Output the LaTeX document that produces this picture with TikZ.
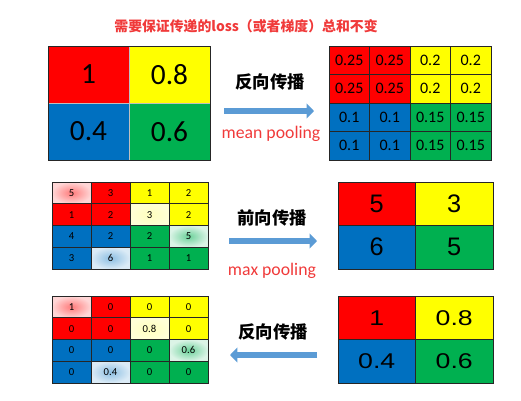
\documentclass[tikz,border=0pt]{standalone}
\usepackage{fontspec}
\setmainfont{Carlito}
\newfontfamily\cjk{Noto Sans CJK SC}
\newfontfamily\arialf{Liberation Sans}
\usetikzlibrary{arrows.meta}
\definecolor{cR}{HTML}{FF0000}
\definecolor{cY}{HTML}{FFFF00}
\definecolor{cB}{HTML}{0070C0}
\definecolor{cG}{HTML}{00B050}
\definecolor{arr}{HTML}{5B9BD5}
\definecolor{lab}{HTML}{F03A3A}
\begin{document}
\begin{tikzpicture}[x=0.75pt,y=-0.75pt,
  cell/.style={draw=black!85, line width=0.6pt, inner sep=0pt, outer sep=0pt, anchor=north west, text=black},
  bigcell/.style={cell, minimum width=81*0.75pt, minimum height=57*0.75pt, draw=black!25, font=\fontsize{22}{24}\selectfont},
  midcell/.style={cell, minimum width=40.5*0.75pt, minimum height=28.5*0.75pt, font=\fontsize{12}{14}\selectfont},
  smallcell/.style={cell, minimum width=39*0.75pt, minimum height=21.75*0.75pt, font=\fontsize{8}{9}\selectfont},
  poolcell/.style={cell, minimum width=77.5*0.75pt, minimum height=43.5*0.75pt},
  cjklab/.style={font=\cjk\bfseries\fontsize{13}{15}\selectfont},
  enlab/.style={font=\fontsize{13.3}{15}\selectfont, text=lab},
  fatarrow/.style={draw=arr, line width=5.2pt, -{Triangle[length=5.5pt,width=11pt]}}
]
\useasboundingbox (0,0) rectangle (521,400);

% title
\node[font=\cjk\bfseries\fontsize{10.4}{12}\selectfont, text=lab] (title) at (246,26) {需要保证传递的loss（或者梯度）总和不变};

% top-left 2x2
\foreach \i/\j/\c/\t in {0/0/cR/1, 1/0/cY/0.8, 0/1/cB/0.4, 1/1/cG/0.6}
  \node[bigcell, fill=\c] (tl-\i-\j) at ({48+81*\i},{46+57*\j}) {\t};
\draw[black!85, line width=0.6pt] (tl-0-0.north west) rectangle (tl-1-1.south east);

% top-right 4x4 (mean pooling back-prop)
\foreach \j/\ca/\cb/\ta/\tb in {0/cR/cY/0.25/0.2, 1/cR/cY/0.25/0.2, 2/cB/cG/0.1/0.15, 3/cB/cG/0.1/0.15}{
  \foreach \i/\c/\t in {0/\ca/\ta, 1/\ca/\ta, 2/\cb/\tb, 3/\cb/\tb}
    \node[midcell, fill=\c] (tr-\i-\j) at ({329+40.5*\i},{46+28.5*\j}) {\t};
}

% labels and arrow, row 1
\node[cjklab] (bp1) at (270,82) {反向传播};
\node[enlab] (mean) at (271,134) {mean pooling};
\coordinate (a1s) at (224,111);
\coordinate (a1e) at (314,111);
\draw[fatarrow] (a1s) -- (a1e);

% middle-left 4x4 (max pooling input)
\foreach \i/\j/\ic/\oc/\t in {
  0/0/cR!52/cR!16/5, 1/0/cR/cR/3, 2/0/cY/cY/1, 3/0/cY/cY/2,
  0/1/cR/cR/1, 1/1/cR/cR/2, 2/1/cY!26/cY!16/3, 3/1/cY/cY/2,
  0/2/cB/cB/4, 1/2/cB/cB/2, 2/2/cG/cG/2, 3/2/cG!58/cG!14/5,
  0/3/cB/cB/3, 1/3/cB!45/cB!14/6, 2/3/cG/cG/1, 3/3/cG/cG/1}
  \node[smallcell, inner color=\ic, outer color=\oc] (ml-\i-\j) at ({52+39*\i},{182+21.75*\j}) {\t};

% middle-right 2x2 (max pooling output)
\foreach \i/\j/\c/\t in {0/0/cR/5, 1/0/cY/3, 0/1/cB/6, 1/1/cG/5}
  \node[poolcell, fill=\c, font=\arialf\fontsize{19}{21}\selectfont] (mr-\i-\j) at ({338+77.5*\i},{182+43.5*\j}) {\t};

\node[cjklab] (fp) at (272,218) {前向传播};
\node[enlab] (maxp) at (272,271) {max pooling};
\coordinate (a2s) at (229,241);
\coordinate (a2e) at (317,241);
\draw[fatarrow] (a2s) -- (a2e);

% bottom-left 4x4 (max pooling back-prop)
\foreach \i/\j/\ic/\oc/\t in {
  0/0/cR!52/cR!16/1, 1/0/cR/cR/0, 2/0/cY/cY/0, 3/0/cY/cY/0,
  0/1/cR/cR/0, 1/1/cR/cR/0, 2/1/cY!26/cY!16/0.8, 3/1/cY/cY/0,
  0/2/cB/cB/0, 1/2/cB/cB/0, 2/2/cG/cG/0, 3/2/cG!58/cG!14/0.6,
  0/3/cB/cB/0, 1/3/cB!45/cB!14/0.4, 2/3/cG/cG/0, 3/3/cG/cG/0}
  \node[smallcell, inner color=\ic, outer color=\oc] (bl-\i-\j) at ({52+39*\i},{296+21.75*\j}) {\t};

% bottom-right 2x2
\foreach \i/\j/\c/\t in {0/0/cR/1, 1/0/cY/0.8, 0/1/cB/0.4, 1/1/cG/0.6}
  \node[poolcell, fill=\c, font=\arialf\fontsize{16}{18}\selectfont] (br-\i-\j) at ({338+77.5*\i},{296+43.5*\j}) {\scalebox{1.25}[1]{\t}};

\node[cjklab] (bp2) at (273,332) {反向传播};
\coordinate (a3s) at (317,355);
\coordinate (a3e) at (230,355);
\draw[fatarrow] (a3s) -- (a3e);
\end{tikzpicture}
\end{document}
